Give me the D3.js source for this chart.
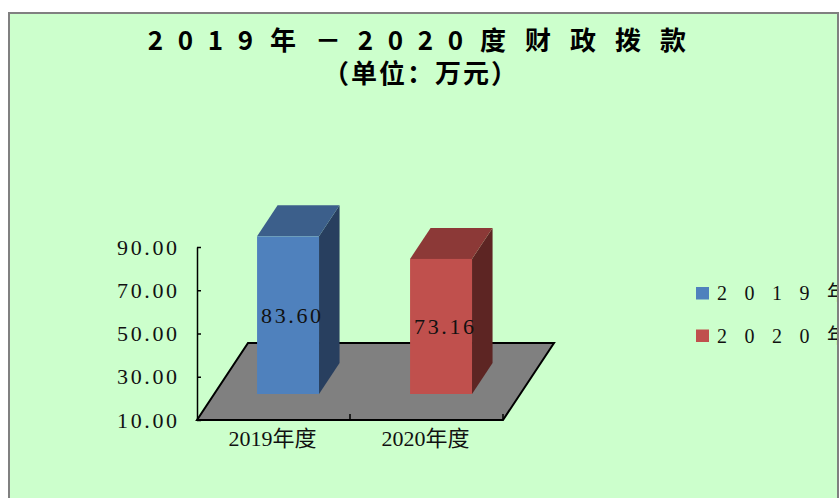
<!DOCTYPE html>
<html><head><meta charset="utf-8">
<script src="https://cdn.jsdelivr.net/npm/d3@7"></script>
<style>html,body{margin:0;padding:0;background:#fff;} svg{display:block}</style>
</head><body>
<svg id="c" width="840" height="498"></svg>
<script>
const categories = ["2019年度", "2020年度"];
const values = [83.60, 73.16];
const seriesNames = ["2019年度", "2020年度"];
const yTicks = [10, 30, 50, 70, 90];
const titleLine1 = "2019年－2020度财政拨款";
const titleLine2 = "（单位：万元）";
const palette = [
  {front: "#4F81BD", top: "#3C5F8B", side: "#283F5F"},
  {front: "#C0504D", top: "#8C3937", side: "#5D2523"}
];

const svg = d3.select("#c");
const W = 840, H = 498;
const defs = svg.append("defs");
defs.append("clipPath").attr("id", "panelClip")
  .append("rect").attr("x", 9).attr("y", 13).attr("width", 829).attr("height", H);

svg.append("rect").attr("width", W).attr("height", H).attr("fill", "#fff");
const g = svg.append("g").attr("clip-path", "url(#panelClip)");
g.append("rect").attr("x", 9).attr("y", 13).attr("width", 829).attr("height", H).attr("fill", "#CCFFCC");

// Title line 1: per-character layout
const serif = "'Liberation Serif','Noto Sans CJK SC',serif";
const isNarrow = c => /[0-9]/.test(c);
const chars = Array.from(titleLine1);
const widths = chars.map(c => isNarrow(c) ? 15 : 30);
const gap = 15;
const total = d3.sum(widths) + gap * (chars.length - 1);
let cx = 418 - total / 2;
const pos = chars.map((c, i) => { const p = cx + widths[i] / 2; cx += widths[i] + gap; return p; });
g.append("g").selectAll("text").data(chars).join("text")
  .attr("x", (d, i) => pos[i]).attr("y", 50)
  .attr("text-anchor", "middle")
  .attr("font-family", "'Noto Sans CJK SC',sans-serif")
  .attr("font-weight", "bold").attr("font-size", 26).attr("fill", "#000")
  .text(d => d);

g.append("text").attr("x", 421).attr("y", 83)
  .attr("text-anchor", "middle")
  .attr("font-family", "'Noto Sans CJK SC',sans-serif")
  .attr("font-weight", "bold").attr("font-size", 26).attr("letter-spacing", 2)
  .text(titleLine2);

// Scales (front plane) + depth projection
const x = d3.scaleBand().domain(categories).range([197, 503]).padding(0);
const y = d3.scaleLinear().domain([10, 90]).range([420, 247]);
const DX = 51, DY = 77;
const P = (px, py, t) => [px + t * DX, py - t * DY];
const bw = x.bandwidth();

// Floor
const x0 = x.range()[0], x1 = x.range()[1], yb = y(10);
g.append("polygon")
  .attr("points", [P(x0, yb, 0), P(x1, yb, 0), P(x1, yb, 1), P(x0, yb, 1)].map(p => p.join(",")).join(" "))
  .attr("fill", "#808080").attr("stroke", "#000").attr("stroke-width", 2).attr("stroke-linejoin", "miter");

// Y axis
const axis = d3.axisLeft(y).tickValues(yTicks).tickFormat(d3.format(".2f"))
  .tickSizeInner(-4).tickSizeOuter(0).tickPadding(20);
const ag = g.append("g").attr("transform", `translate(${x0},0)`).call(axis);
ag.select(".domain").attr("stroke", "#000").attr("stroke-width", 1.5);
ag.selectAll(".tick line").attr("stroke", "#000").attr("stroke-width", 1.5);
ag.selectAll(".tick text").attr("font-family", serif).attr("font-size", 22).attr("fill", "#111")
  .attr("textLength", 60).attr("lengthAdjust", "spacing");

// Category ticks on the floor's front edge
const sepX = categories.slice(1).map(c => x(c)).concat([x1]);
g.append("g").selectAll("line").data(sepX).join("line")
  .attr("x1", d => d).attr("x2", d => d).attr("y1", yb).attr("y2", yb - 6)
  .attr("stroke", "#000").attr("stroke-width", 1.5);

// Category labels
g.append("g").selectAll("text").data(categories).join("text")
  .attr("x", d => x(d) + bw / 2 - 1).attr("y", 446)
  .attr("text-anchor", "middle").attr("font-family", serif).attr("font-size", 22).attr("fill", "#111")
  .text(d => d);

// Bars
const t0 = 26 / 77, t1 = 57 / 77;
const bars = g.append("g");
categories.forEach((c, i) => {
  const v = values[i];
  const fx0 = x(c) + bw * 0.28 + t0 * DX;
  const fx1 = fx0 + bw * 0.405;
  const yt = y(v) - t0 * DY + 1.5, ybt = y(10) - t0 * DY;
  const ddx = (t1 - t0) * DX, ddy = (t1 - t0) * DY;
  const col = palette[i];
  bars.append("polygon")
    .attr("points", [[fx1, yt], [fx1 + ddx, yt - ddy], [fx1 + ddx, ybt - ddy], [fx1, ybt]].map(p => p.join(",")).join(" "))
    .attr("fill", col.side);
  bars.append("polygon")
    .attr("points", [[fx0, yt], [fx1, yt], [fx1 + ddx, yt - ddy], [fx0 + ddx, yt - ddy]].map(p => p.join(",")).join(" "))
    .attr("fill", col.top);
  bars.append("rect").attr("x", fx0).attr("y", yt).attr("width", fx1 - fx0).attr("height", ybt - yt)
    .attr("fill", col.front);
  bars.append("text")
    .attr("x", (fx0 + fx1) / 2 + 3).attr("y", (yt + ybt) / 2).attr("dy", "0.35em")
    .attr("text-anchor", "middle").attr("font-family", serif).attr("font-size", 22).attr("fill", "#111")
    .attr("textLength", 60).attr("lengthAdjust", "spacing")
    .text(d3.format(".2f")(v));
});

// Legend
const lg = g.append("g");
seriesNames.forEach((s, i) => {
  const ly = 287 + i * 42.5;
  lg.append("rect").attr("x", 696).attr("y", ly).attr("width", 13).attr("height", 12.5).attr("fill", palette[i].front);
  lg.append("text").attr("x", 717).attr("y", ly + 13)
    .attr("font-family", serif).attr("font-size", 20).attr("letter-spacing", 17.5).attr("fill", "#111")
    .text(s);
});

// Panel border
svg.append("path").attr("d", `M9,${H} V13 H838 V${H}`)
  .attr("fill", "none").attr("stroke", "#808080").attr("stroke-width", 2);
</script>
</body></html>
